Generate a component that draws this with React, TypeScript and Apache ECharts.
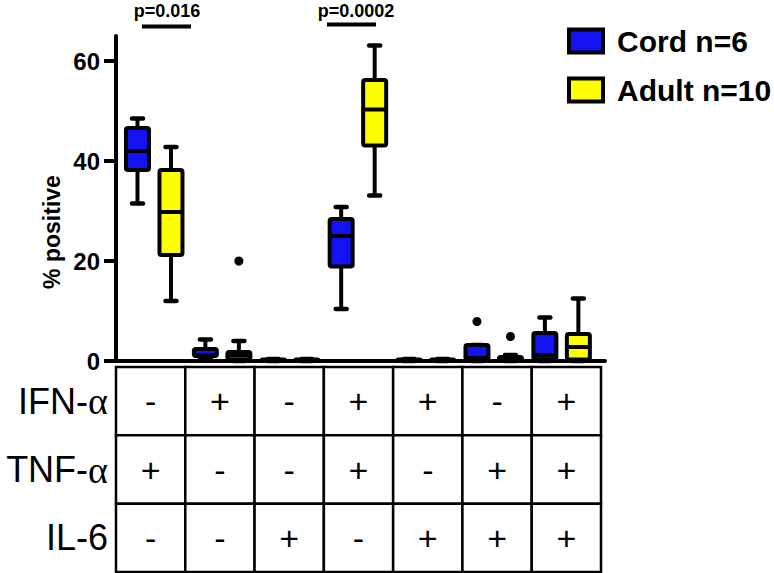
import React, { useEffect, useRef } from 'react';
import * as echarts from 'echarts';

// ---- data ----
const groupIndex = [0, 1, 2, 3, 4, 5, 6];
const conditionRows = ['IFN-α', 'TNF-α', 'IL-6'];
const ifnAlpha = ['-', '+', '-', '+', '+', '-', '+'];
const tnfAlpha = ['+', '-', '-', '+', '-', '+', '+'];
const il6 = ['-', '-', '+', '-', '+', '+', '+'];

// [min, q1, median, q3, max]
const cordBoxes = [
  [31.5, 38.2, 42.0, 46.6, 48.5],
  [0.6, 1.0, 1.1, 2.4, 4.3],
  [0, 0.05, 0.1, 0.3, 0.4],
  [10.4, 18.9, 25.0, 28.4, 30.8],
  [0, 0.05, 0.1, 0.3, 0.4],
  [0, 0.2, 0.6, 3.2, 3.2],
  [0, 0.3, 1.2, 5.6, 8.7],
];
const adultBoxes = [
  [12.0, 21.2, 29.8, 38.2, 42.8],
  [0, 0.3, 1.1, 1.8, 4.0],
  [0, 0.05, 0.1, 0.3, 0.4],
  [33.1, 43.1, 50.3, 56.2, 63.1],
  [0, 0.05, 0.1, 0.3, 0.4],
  [0, 0.1, 0.3, 0.8, 1.2],
  [0, 0.3, 2.8, 5.4, 12.5],
];
// [group, value]
const cordOutliers = [[5, 7.9]];
const adultOutliers = [[1, 20.0], [5, 4.9]];
const yTicks = [0, 20, 40, 60];
const seriesNames = ['Cord n=6', 'Adult n=10'];
const pValueLabels = ['p=0.016', 'p=0.0002'];

const BLUE = '#1212f2';
const YELLOW = '#ffff00';
const FONT = '"Liberation Sans", Arial, Helvetica, sans-serif';

export default function App() {
  const ref = useRef<HTMLDivElement>(null);

  useEffect(() => {
    if (!ref.current) return;
    const chart = echarts.init(ref.current, null, { renderer: 'svg' });

    const boxData = (boxes: number[][]) =>
      boxes.map((b, i) => [groupIndex[i], ...b]);

    const makeRender = (offsetPx: number, fill: string) => (params: any, api: any) => {
      const x = api.value(0);
      const vMin = api.value(1);
      const vQ1 = api.value(2);
      const vMed = api.value(3);
      const vQ3 = api.value(4);
      const vMax = api.value(5);
      const p0 = api.coord([x, vMin]);
      const cx = p0[0] + offsetPx;
      const yMin = p0[1];
      const yQ1 = api.coord([x, vQ1])[1];
      const yMed = api.coord([x, vMed])[1];
      const yQ3 = api.coord([x, vQ3])[1];
      const yMax = api.coord([x, vMax])[1];
      const half = 11.5;
      const capHalf = 5.5;
      const ls = { stroke: '#000', lineWidth: 4 };
      const capStyle = { stroke: '#000', lineWidth: 4.5, lineCap: 'round' };
      return {
        type: 'group',
        children: [
          { type: 'line', shape: { x1: cx, y1: yMax, x2: cx, y2: yQ3 }, style: ls },
          { type: 'line', shape: { x1: cx, y1: yQ1, x2: cx, y2: yMin }, style: ls },
          { type: 'line', shape: { x1: cx - capHalf, y1: yMax, x2: cx + capHalf, y2: yMax }, style: capStyle },
          { type: 'line', shape: { x1: cx - capHalf, y1: yMin, x2: cx + capHalf, y2: yMin }, style: capStyle },
          {
            type: 'rect',
            shape: { x: cx - half, y: yQ3, width: half * 2, height: Math.max(yQ1 - yQ3, 0.5), r: 2 },
            style: { fill, stroke: '#000', lineWidth: 4, lineJoin: 'round' },
          },
          { type: 'line', shape: { x1: cx - half, y1: yMed, x2: cx + half, y2: yMed }, style: ls },
        ],
      };
    };

    const tableRows = [ifnAlpha, tnfAlpha, il6];
    const tableData: number[][] = [];
    tableRows.forEach((row, r) => row.forEach((_, c) => tableData.push([c, r])));

    const OFF = 16.75;

    chart.setOption({
      animation: false,
      textStyle: { fontFamily: FONT },
      grid: [
        { left: 116, top: 36, width: 489, height: 325 },
        { left: 116, top: 367, width: 485, height: 205 },
      ],
      xAxis: [
        {
          type: 'value',
          gridIndex: 0,
          min: -0.563,
          max: 6.639,
          axisLine: { show: true, onZero: false, lineStyle: { color: '#000', width: 4 } },
          axisTick: { show: false },
          axisLabel: { show: false },
          splitLine: { show: false },
        },
        {
          type: 'category',
          gridIndex: 1,
          data: groupIndex.map(String),
          axisLine: { show: false },
          axisTick: { show: false },
          axisLabel: { show: false },
          splitLine: { show: false },
        },
      ],
      yAxis: [
        {
          type: 'value',
          gridIndex: 0,
          min: 0,
          max: 65,
          interval: 20,
          axisLine: { show: true, onZero: false, lineStyle: { color: '#000', width: 4 } },
          axisTick: { show: true, length: 12, customValues: yTicks, lineStyle: { color: '#000', width: 4 } },
          axisLabel: {
            customValues: yTicks,
            margin: 16,
            color: '#000',
            fontSize: 24,
            fontWeight: 'bold',
            fontFamily: FONT,
          },
          splitLine: { show: false },
        },
        {
          type: 'category',
          gridIndex: 1,
          inverse: true,
          data: conditionRows,
          axisLine: { show: false },
          axisTick: { show: false },
          splitLine: { show: false },
          axisLabel: {
            margin: 8,
            formatter: (v: string) =>
              v.endsWith('α') ? '{n|' + v.slice(0, -1) + '}{g|α}' : '{n|' + v + '}',
            rich: {
              n: { fontSize: 36, color: '#000', fontFamily: FONT },
              g: { fontSize: 38, color: '#000', fontFamily: '"Liberation Serif", "DejaVu Serif", serif' },
            },
          },
        },
      ],
      legend: {
        orient: 'vertical',
        left: 562,
        top: 21,
        icon: 'rect',
        itemWidth: 34,
        itemHeight: 23,
        itemGap: 19,
        data: [
          { name: seriesNames[0], itemStyle: { color: BLUE, borderColor: '#000', borderWidth: 4 } },
          { name: seriesNames[1], itemStyle: { color: YELLOW, borderColor: '#000', borderWidth: 4 } },
        ],
        textStyle: { fontSize: 30, fontWeight: 'bold', color: '#000', fontFamily: FONT, padding: [0, 0, 0, 9] },
      },
      graphic: [
        {
          type: 'text',
          x: 52,
          y: 232,
          rotation: Math.PI / 2,
          style: {
            text: '% positive',
            font: 'bold 23px ' + FONT,
            fill: '#000',
            align: 'center',
            verticalAlign: 'middle',
          },
        },
        {
          type: 'text',
          x: 167,
          y: 20,
          style: { text: pValueLabels[0], font: 'bold 18px ' + FONT, fill: '#000', align: 'center', verticalAlign: 'bottom' },
        },
        { type: 'rect', shape: { x: 142, y: 24.5, width: 49, height: 4 }, style: { fill: '#000' } },
        {
          type: 'text',
          x: 356,
          y: 19.5,
          style: { text: pValueLabels[1], font: 'bold 18px ' + FONT, fill: '#000', align: 'center', verticalAlign: 'bottom' },
        },
        { type: 'rect', shape: { x: 327, y: 22.5, width: 49, height: 4 }, style: { fill: '#000' } },
      ],
      series: [
        {
          name: seriesNames[0],
          type: 'custom',
          xAxisIndex: 0,
          yAxisIndex: 0,
          itemStyle: { color: BLUE },
          encode: { x: 0, y: [1, 2, 3, 4, 5] },
          renderItem: makeRender(-OFF, BLUE),
          data: boxData(cordBoxes),
          z: 3,
        },
        {
          name: seriesNames[1],
          type: 'custom',
          xAxisIndex: 0,
          yAxisIndex: 0,
          itemStyle: { color: YELLOW },
          encode: { x: 0, y: [1, 2, 3, 4, 5] },
          renderItem: makeRender(OFF, YELLOW),
          data: boxData(adultBoxes),
          z: 3,
        },
        {
          name: seriesNames[0],
          type: 'scatter',
          xAxisIndex: 0,
          yAxisIndex: 0,
          symbolSize: 9,
          symbolOffset: [-OFF, 0],
          itemStyle: { color: '#000', opacity: 1 },
          data: cordOutliers,
          z: 4,
        },
        {
          name: seriesNames[1],
          type: 'scatter',
          xAxisIndex: 0,
          yAxisIndex: 0,
          symbolSize: 9,
          symbolOffset: [OFF, 0],
          itemStyle: { color: '#000', opacity: 1 },
          data: adultOutliers,
          z: 4,
        },
        {
          name: 'table',
          type: 'custom',
          xAxisIndex: 1,
          yAxisIndex: 1,
          data: tableData,
          encode: { x: 0, y: 1 },
          renderItem: (params: any, api: any) => {
            const c = api.value(0);
            const r = api.value(1);
            const pt = api.coord([c, r]);
            const sz = api.size([1, 1]);
            const sign = tableRows[r][c];
            return {
              type: 'group',
              children: [
                {
                  type: 'rect',
                  shape: { x: pt[0] - sz[0] / 2, y: pt[1] - sz[1] / 2, width: sz[0], height: sz[1] },
                  style: { fill: '#fff', stroke: '#000', lineWidth: 2.5 },
                },
                {
                  type: 'text',
                  x: pt[0],
                  y: pt[1],
                  style: {
                    text: sign,
                    font: '34px ' + FONT,
                    fill: '#000',
                    align: 'center',
                    verticalAlign: 'middle',
                  },
                },
              ],
            };
          },
        },
      ],
    });

    return () => chart.dispose();
  }, []);

  return (
    <div
      ref={ref}
      style={{ position: 'fixed', left: 0, top: 0, width: 774, height: 573, background: '#fff' }}
    />
  );
}
